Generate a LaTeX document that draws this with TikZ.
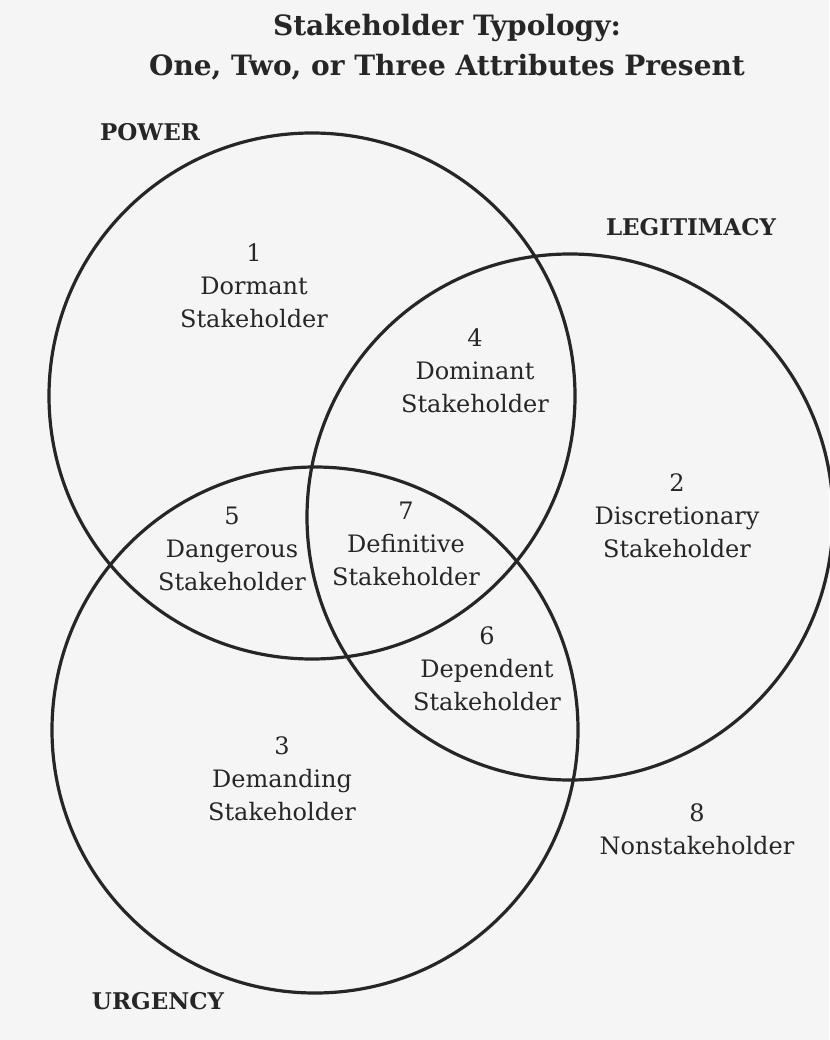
\documentclass[tikz,border=0pt]{standalone}
\usepackage{fontspec}
\setmainfont{DejaVu Serif}
\usepackage{tikz}
\colorlet{Paper}{gray!8}
\colorlet{Ink}{black!85}

\begin{document}
\begin{tikzpicture}[x=1pt, y=-1pt,
        ring/.style={circle, draw=Ink, line width=3.2pt, minimum size=526pt, inner sep=0pt},
        region/.style={align=center, text=Ink, font=\fontsize{24}{33}\selectfont},
        attr/.style={text=Ink, font=\bfseries\fontsize{23}{28}\selectfont}]
        % paper
        \fill[Paper] (0,0) rectangle (829,1040);
        \useasboundingbox (0,0) rectangle (829,1040);

        % title
        \node[align=center, text=Ink, font=\bfseries\fontsize{28}{40}\selectfont] (title) at (447,47) {Stakeholder Typology:\\One, Two, or Three Attributes Present};

        % circles
        \node[ring] (P) at (312,396) {};
        \node[ring] (L) at (570,517) {};
        \node[ring] (U) at (315,730) {};

        % attributes
        \node[attr] (Pl) at (150,132) {POWER};
        \node[attr] (Ll) at (691,227) {LEGITIMACY};
        \node[attr] (Ul) at (158,1001) {URGENCY};

        % stakeholder classes
        \node[region] (R1) at (254,286) {1\\Dormant\\Stakeholder};
        \node[region] (R2) at (677,516) {2\\Discretionary\\Stakeholder};
        \node[region] (R3) at (282,779) {3\\Demanding\\Stakeholder};
        \node[region] (R4) at (475,371) {4\\Dominant\\Stakeholder};
        \node[region] (R5) at (232,549) {5\\Dangerous\\Stakeholder};
        \node[region] (R6) at (487,669) {6\\Dependent\\Stakeholder};
        \node[region] (R7) at (406,544) {7\\Definitive\\Stakeholder};
        \node[region] (R8) at (697,829) {8\\Nonstakeholder};
\end{tikzpicture}
\end{document}
